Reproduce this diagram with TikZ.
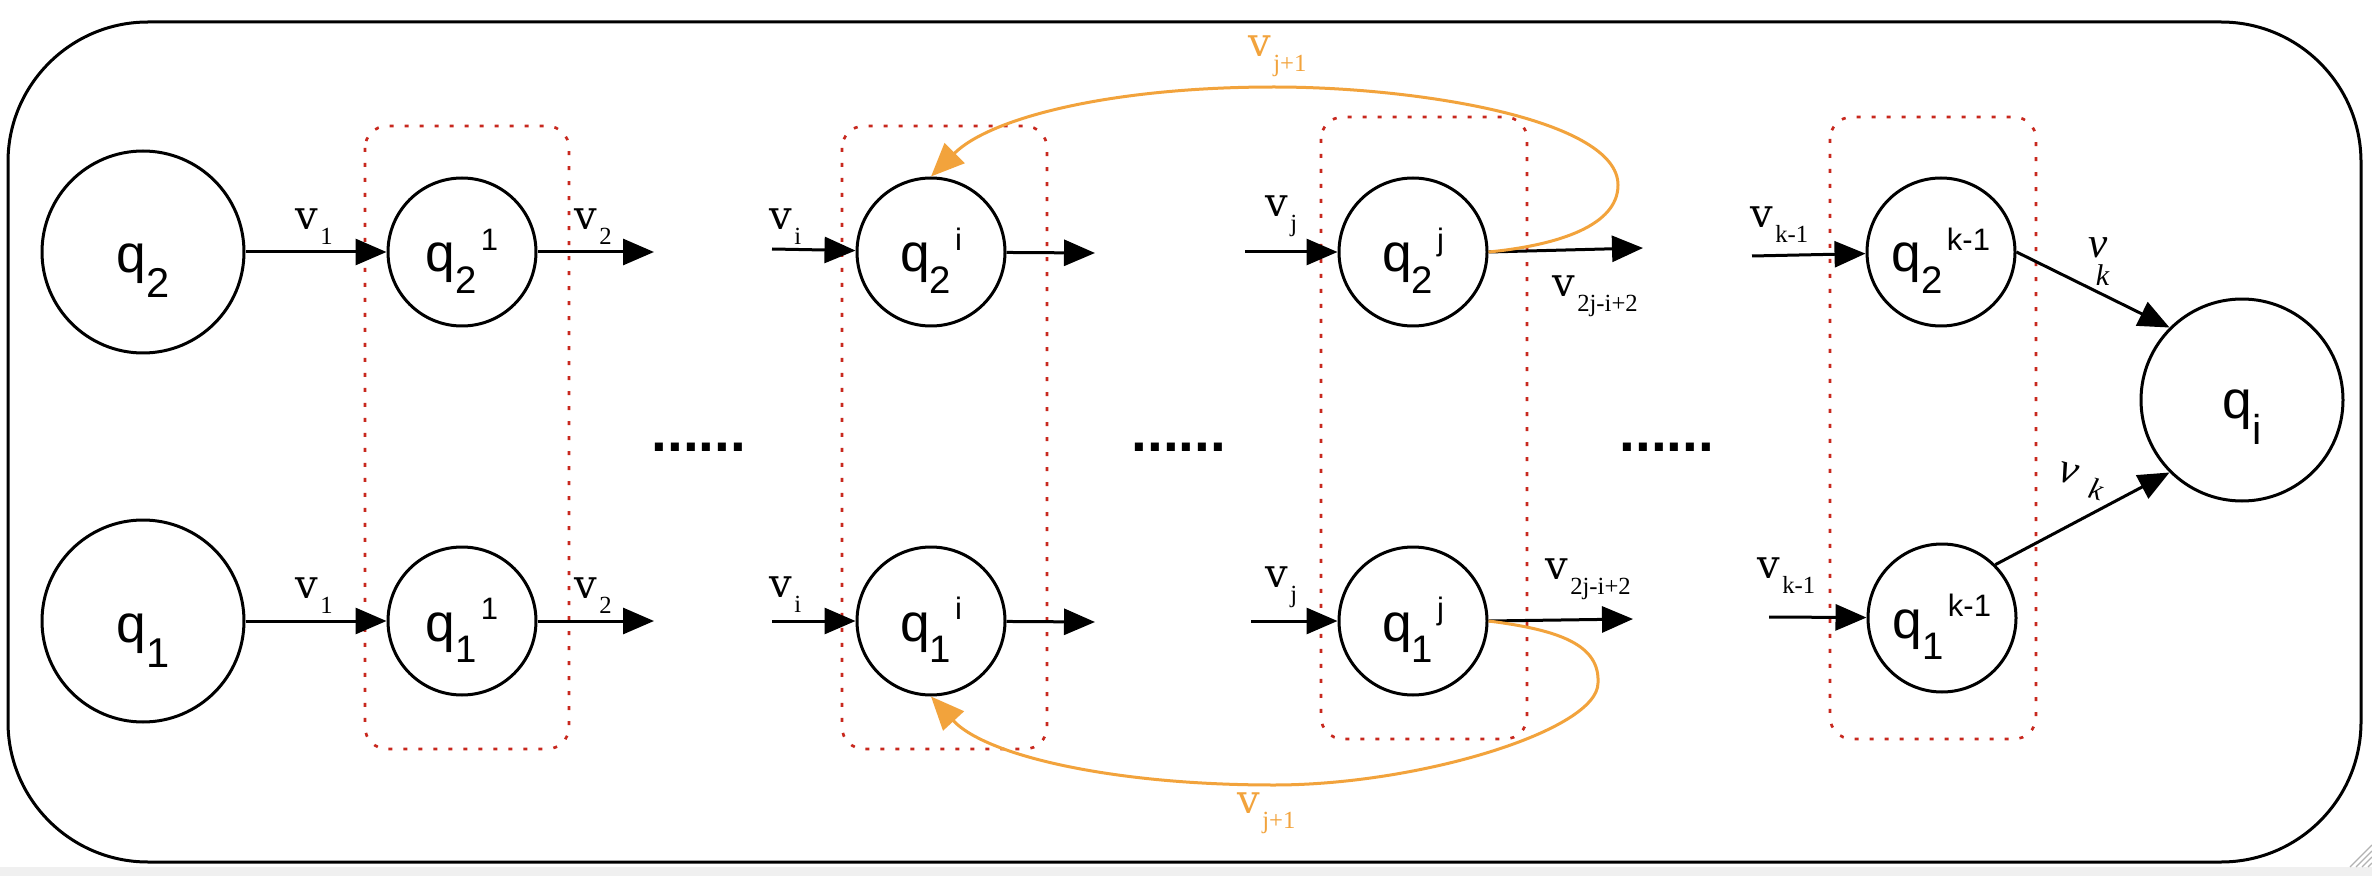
\documentclass[tikz,border=0pt]{standalone}
\usepackage{fontspec}
\setmainfont{Liberation Sans}
\newfontfamily\vfont{DejaVu Serif}
\newfontfamily\subfont{Liberation Serif}
\usetikzlibrary{arrows.meta}
\definecolor{dotred}{RGB}{200,40,30}
\definecolor{orng}{RGB}{242,163,60}
\definecolor{stripgray}{RGB}{240,240,240}
\newcommand{\qbig}[3]{\raisebox{-#1}[0pt][0pt]{\fontsize{16}{16}\selectfont q\raisebox{-#2}{\fontsize{12.5}{12.5}\selectfont #3}}}
\newcommand{\qsm}[2]{\raisebox{-6pt}[0pt][0pt]{\fontsize{16}{16}\selectfont q\raisebox{-6.5pt}{\fontsize{11.5}{11.5}\selectfont #1}\hspace{1.2pt}\raisebox{6.5pt}{\fontsize{9.3}{9.3}\selectfont #2}}}
\newcommand{\vl}[1]{{\vfont\fontsize{12}{12}\selectfont v}\hspace{0.6pt}\raisebox{-4.5pt}{\subfont\fontsize{7.4}{7.4}\selectfont #1}}
\begin{document}
\begin{tikzpicture}[x=0.3pt,y=-0.3pt,
  big/.style={circle, draw, line width=0.9pt, minimum size=60.6pt, inner sep=0pt},
  small/.style={circle, draw, line width=0.9pt, minimum size=44.4pt, inner sep=0pt},
  arr/.style={line width=0.9pt, -{Triangle[length=9.3pt,width=7.8pt]}},
  orarr/.style={line width=0.9pt, orng, -{Triangle[length=10pt,width=8.4pt]}},
  grp/.style={dotred, line width=0.8pt, dash pattern=on 1.2pt off 3.3pt, rounded corners=6.6pt},
  lbl/.style={inner sep=0pt, anchor=base west},
  dotsl/.style={inner sep=0pt, anchor=base west, font=\bfseries\fontsize{17}{17}\selectfont}]
\fill[white] (0,0) rectangle (2372,876);
\useasboundingbox (0,0) rectangle (2372,876);
\fill[stripgray] (0,867) rectangle (2372,876);
\foreach \d in {0,6,12,18} \draw[gray!60, line width=0.4pt] (2350+\d,867) -- (2372,845+\d);
% outer frame
\draw[line width=0.9pt, rounded corners=42pt] (8,22) rectangle (2361,862);
% groups
\draw[grp] (365,126) rectangle (569,749);
\draw[grp] (842,126) rectangle (1047,749);
\draw[grp] (1321,117) rectangle (1527,739);
\draw[grp] (1830,117) rectangle (2036,739);
% states
\node[big] (Q2) at (143,252) {\qbig{6.3pt}{7.5pt}{2}};
\node[big] (Q1) at (143,621) {\qbig{6.3pt}{7.5pt}{1}};
\node[big] (QI) at (2242,400) {\qbig{5.5pt}{7.8pt}{i}};
\node[small] (A2) at (462,252) {\qsm{2}{1}};
\node[small] (A1) at (462,621) {\qsm{1}{1}};
\node[small] (I2) at (931,252) {\qsm{2}{i}};
\node[small] (I1) at (931,621) {\qsm{1}{i}};
\node[small] (J2) at (1413,252) {\qsm{2}{j}};
\node[small] (J1) at (1413,621) {\qsm{1}{j}};
\node[small] (K2) at (1941,252) {\qsm{2}{k-1}};
\node[small] (K1) at (1942,618) {\qsm{1}{k-1}};
% free ends
\coordinate (e21) at (654,252);
\coordinate (e11) at (654,621);
\coordinate (si2) at (772,249);
\coordinate (si1) at (772,621);
\coordinate (ei2) at (1095,253);
\coordinate (ei1) at (1095,622);
\coordinate (sj2) at (1245,252);
\coordinate (sj1) at (1251,621);
\coordinate (ej2) at (1643,248);
\coordinate (ej1) at (1633,619);
\coordinate (sk2) at (1752,256);
\coordinate (sk1) at (1769,617);
% arrows
\draw[arr] (Q2) -- (A2);
\draw[arr] (Q1) -- (A1);
\draw[arr] (A2) -- (e21);
\draw[arr] (A1) -- (e11);
\draw[arr] (si2) -- (I2);
\draw[arr] (si1) -- (I1);
\draw[arr] (I2) -- (ei2);
\draw[arr] (I1) -- (ei1);
\draw[arr] (sj2) -- (J2);
\draw[arr] (sj1) -- (J1);
\draw[arr] (J2.east) -- (ej2);
\draw[arr] (J1.east) -- (ej1);
\draw[arr] (sk2) -- (K2);
\draw[arr] (sk1) -- (K1);
\draw[arr] (K2.east) -- (QI.135);
\draw[arr] (K1.45) -- (QI.225);
% orange loops
\draw[orarr] (J2.east) .. controls (1560,245) and (1618,225) .. (1618,185)
  .. controls (1618,120) and (1420,87) .. (1274,87)
  .. controls (1110,87) and (990,118) .. (I2.north);
\draw[orarr] (J1.east) .. controls (1560,630) and (1600,645) .. (1598,683)
  .. controls (1598,730) and (1420,785) .. (1274,785)
  .. controls (1110,785) and (985,755) .. (I1.south);
% labels
\node[lbl] (l1u) at (295,230) {\vl{1}};
\node[lbl] (l2u) at (574,230) {\vl{2}};
\node[lbl] (l1l) at (295,598) {\vl{1}};
\node[lbl] (l2l) at (574,598) {\vl{2}};
\node[lbl] (liu) at (769,230) {\vl{i}};
\node[lbl] (lil) at (769,597) {\vl{i}};
\node[lbl] (lju) at (1265,217) {\vl{j}};
\node[lbl] (ljl) at (1265,587) {\vl{j}};
\node[lbl] (lxu) at (1552,297) {\vl{2j-i+2}};
\node[lbl] (lxl) at (1545,579) {\vl{2j-i+2}};
\node[lbl] (lku) at (1750,228) {\vl{k-1}};
\node[lbl] (lkl) at (1757,578) {\vl{k-1}};
\node[lbl, text=orng] (lou) at (1248,57) {\vl{j+1}};
\node[lbl, text=orng] (lol) at (1237,813) {\vl{j+1}};
\node[lbl] (vku) at (2088,257) {{\subfont\itshape\fontsize{13}{13}\selectfont v}\hspace{-3.6pt}\raisebox{-8.5pt}{\subfont\itshape\fontsize{9}{9}\selectfont k}};
\node[lbl, rotate=-15] (vkl) at (2056,480) {{\subfont\itshape\fontsize{13}{13}\selectfont v}\hspace{4.5pt}\raisebox{-2.5pt}{\subfont\itshape\fontsize{9}{9}\selectfont k}};
% ellipses
\node[dotsl] (d1) at (651,451) {......};
\node[dotsl] (d2) at (1131,451) {......};
\node[dotsl] (d3) at (1619,451) {......};
\end{tikzpicture}
\end{document}
